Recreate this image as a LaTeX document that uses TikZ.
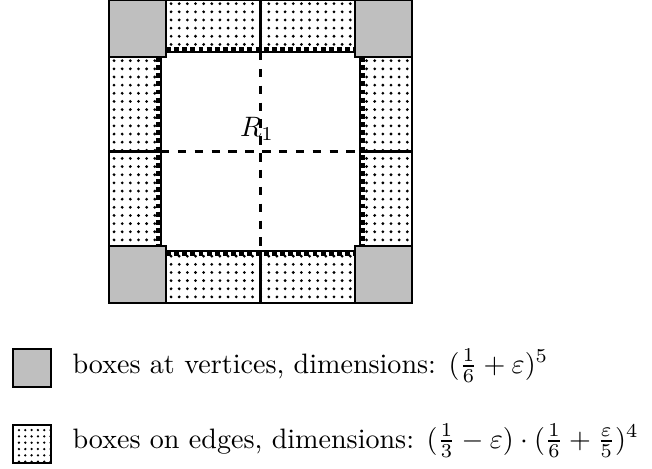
\documentclass[tikz,border=0pt]{standalone}
\usepackage{amsmath,amssymb}
\usepackage{tikz}
\usetikzlibrary{patterns.meta,positioning}

\tikzset{
    vbox/.style={draw,thick,fill=gray!50},
    ebox/.style={draw,thick,pattern={Dots[distance=2.9pt,radius=0.55pt]}},
    rim/.style={line width=1.2pt,dash pattern=on 1.7pt off 1.2pt},
    keybox/.style={minimum width=13.5pt,minimum height=13.5pt,inner sep=0pt}
}

\begin{document}
\begin{tikzpicture}[x=0.356pt,y=-0.356pt]
\useasboundingbox (0,0) rectangle (652,468);

% boxes on edges
\draw[ebox] (166,0) rectangle (260.5,52);
\draw[ebox] (260.5,0) rectangle (355,52);
\draw[ebox] (166,251) rectangle (260.5,303);
\draw[ebox] (260.5,251) rectangle (355,303);
\draw[ebox] (109,57) rectangle (161,151.5);
\draw[ebox] (109,151.5) rectangle (161,246);
\draw[ebox] (360,57) rectangle (412,151.5);
\draw[ebox] (360,151.5) rectangle (412,246);

% boundary of the inner region
\draw[rim] (166,49) -- (355,49);
\draw[rim] (166,254) -- (355,254);
\draw[rim] (158,57) -- (158,246);
\draw[rim] (363,57) -- (363,246);

% inner region
\draw[thick,fill=white] (161,52) rectangle (360,251);
\draw[thick,dashed] (161,151.5) -- (360,151.5);
\draw[thick,dashed] (260.5,52) -- (260.5,251);
\node (r1) at (257,129) {$R_1$};

% boxes at vertices
\draw[vbox] (109,0) rectangle (166,57);
\draw[vbox] (355,0) rectangle (412,57);
\draw[vbox] (109,246) rectangle (166,303);
\draw[vbox] (355,246) rectangle (412,303);
\draw[thick] (109,0) rectangle (412,303);

% legend
\node[keybox,vbox] (kv) at (32,368) {};
\node[keybox,ebox,pattern={Dots[distance=2.25pt,radius=0.45pt]}] (ke) at (32,444) {};
\node[anchor=base west,inner sep=0pt] (tv) at (72,373)
{boxes at vertices, dimensions: $(\frac{1}{6}+\varepsilon)^5$};
\node[anchor=base west,inner sep=0pt] (te) at (72,448)
{boxes on edges, dimensions: $(\frac{1}{3}-\varepsilon)\cdot(\frac{1}{6}+\frac{\varepsilon}{5})^4$};

\end{tikzpicture}
\end{document}
